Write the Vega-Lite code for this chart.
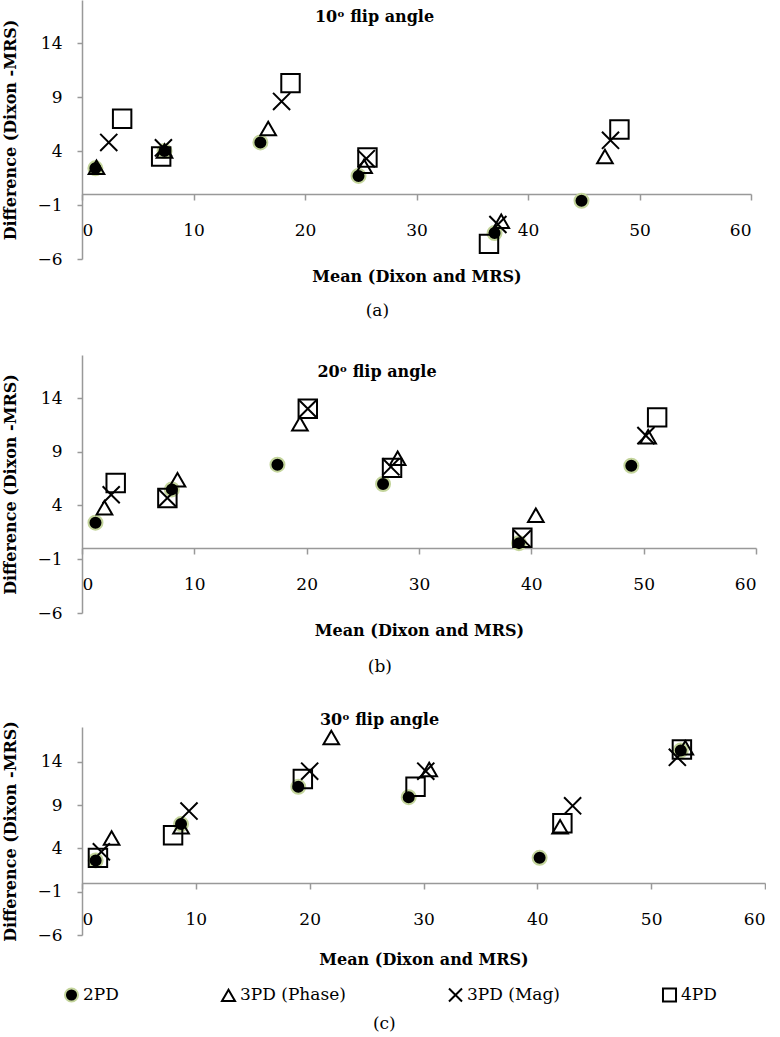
{
  "$schema": "https://vega.github.io/schema/vega-lite/v6.json",
  "background": "white",
  "padding": {"left": 2, "top": 0, "right": 0, "bottom": 0},
  "datasets": {
    "pts": [
      {"panel": "a", "method": "2PD", "mean": 1.2, "diff": 2.4},
      {"panel": "a", "method": "2PD", "mean": 7.4, "diff": 4.0},
      {"panel": "a", "method": "2PD", "mean": 16.0, "diff": 4.8},
      {"panel": "a", "method": "2PD", "mean": 24.8, "diff": 1.7},
      {"panel": "a", "method": "2PD", "mean": 37.0, "diff": -3.6},
      {"panel": "a", "method": "2PD", "mean": 44.8, "diff": -0.6},
      {"panel": "a", "method": "3PD (Phase)", "mean": 1.3, "diff": 2.5},
      {"panel": "a", "method": "3PD (Phase)", "mean": 7.4, "diff": 4.0},
      {"panel": "a", "method": "3PD (Phase)", "mean": 16.7, "diff": 6.1},
      {"panel": "a", "method": "3PD (Phase)", "mean": 25.3, "diff": 2.6},
      {"panel": "a", "method": "3PD (Phase)", "mean": 37.6, "diff": -2.5},
      {"panel": "a", "method": "3PD (Phase)", "mean": 46.9, "diff": 3.5},
      {"panel": "a", "method": "3PD (Mag)", "mean": 2.4, "diff": 4.8},
      {"panel": "a", "method": "3PD (Mag)", "mean": 7.3, "diff": 4.3},
      {"panel": "a", "method": "3PD (Mag)", "mean": 17.9, "diff": 8.6},
      {"panel": "a", "method": "3PD (Mag)", "mean": 25.5, "diff": 3.3},
      {"panel": "a", "method": "3PD (Mag)", "mean": 37.3, "diff": -2.8},
      {"panel": "a", "method": "3PD (Mag)", "mean": 47.4, "diff": 5.0},
      {"panel": "a", "method": "4PD", "mean": 3.6, "diff": 7.0},
      {"panel": "a", "method": "4PD", "mean": 7.1, "diff": 3.5},
      {"panel": "a", "method": "4PD", "mean": 18.7, "diff": 10.3},
      {"panel": "a", "method": "4PD", "mean": 25.6, "diff": 3.4},
      {"panel": "a", "method": "4PD", "mean": 36.5, "diff": -4.6},
      {"panel": "a", "method": "4PD", "mean": 48.2, "diff": 6.0},
      {"panel": "b", "method": "2PD", "mean": 1.2, "diff": 2.4},
      {"panel": "b", "method": "2PD", "mean": 8.0, "diff": 5.5},
      {"panel": "b", "method": "2PD", "mean": 17.4, "diff": 7.8},
      {"panel": "b", "method": "2PD", "mean": 26.8, "diff": 6.0},
      {"panel": "b", "method": "2PD", "mean": 38.9, "diff": 0.5},
      {"panel": "b", "method": "2PD", "mean": 48.9, "diff": 7.7},
      {"panel": "b", "method": "3PD (Phase)", "mean": 2.0, "diff": 3.8},
      {"panel": "b", "method": "3PD (Phase)", "mean": 8.5, "diff": 6.4},
      {"panel": "b", "method": "3PD (Phase)", "mean": 19.4, "diff": 11.6},
      {"panel": "b", "method": "3PD (Phase)", "mean": 28.1, "diff": 8.4},
      {"panel": "b", "method": "3PD (Phase)", "mean": 40.4, "diff": 3.1},
      {"panel": "b", "method": "3PD (Phase)", "mean": 50.4, "diff": 10.4},
      {"panel": "b", "method": "3PD (Mag)", "mean": 2.6, "diff": 5.0},
      {"panel": "b", "method": "3PD (Mag)", "mean": 7.6, "diff": 4.7},
      {"panel": "b", "method": "3PD (Mag)", "mean": 20.1, "diff": 13.0},
      {"panel": "b", "method": "3PD (Mag)", "mean": 27.5, "diff": 7.6},
      {"panel": "b", "method": "3PD (Mag)", "mean": 39.2, "diff": 0.9},
      {"panel": "b", "method": "3PD (Mag)", "mean": 50.2, "diff": 10.5},
      {"panel": "b", "method": "4PD", "mean": 3.0, "diff": 6.1},
      {"panel": "b", "method": "4PD", "mean": 7.6, "diff": 4.7},
      {"panel": "b", "method": "4PD", "mean": 20.1, "diff": 13.0},
      {"panel": "b", "method": "4PD", "mean": 27.6, "diff": 7.5},
      {"panel": "b", "method": "4PD", "mean": 39.2, "diff": 1.0},
      {"panel": "b", "method": "4PD", "mean": 51.2, "diff": 12.2},
      {"panel": "c", "method": "2PD", "mean": 1.2, "diff": 2.6},
      {"panel": "c", "method": "2PD", "mean": 8.7, "diff": 6.8},
      {"panel": "c", "method": "2PD", "mean": 19.0, "diff": 11.1},
      {"panel": "c", "method": "2PD", "mean": 28.7, "diff": 9.9},
      {"panel": "c", "method": "2PD", "mean": 40.2, "diff": 2.9},
      {"panel": "c", "method": "2PD", "mean": 52.6, "diff": 15.3},
      {"panel": "c", "method": "3PD (Phase)", "mean": 2.6, "diff": 5.2},
      {"panel": "c", "method": "3PD (Phase)", "mean": 8.7, "diff": 6.5},
      {"panel": "c", "method": "3PD (Phase)", "mean": 21.9, "diff": 16.8},
      {"panel": "c", "method": "3PD (Phase)", "mean": 30.5, "diff": 13.1},
      {"panel": "c", "method": "3PD (Phase)", "mean": 42.0, "diff": 6.5},
      {"panel": "c", "method": "3PD (Phase)", "mean": 53.0, "diff": 15.6},
      {"panel": "c", "method": "3PD (Mag)", "mean": 1.7, "diff": 3.6},
      {"panel": "c", "method": "3PD (Mag)", "mean": 9.4, "diff": 8.3},
      {"panel": "c", "method": "3PD (Mag)", "mean": 20.0, "diff": 12.9},
      {"panel": "c", "method": "3PD (Mag)", "mean": 30.2, "diff": 12.9},
      {"panel": "c", "method": "3PD (Mag)", "mean": 43.1, "diff": 8.9},
      {"panel": "c", "method": "3PD (Mag)", "mean": 52.3, "diff": 14.5},
      {"panel": "c", "method": "4PD", "mean": 1.4, "diff": 2.9},
      {"panel": "c", "method": "4PD", "mean": 8.0, "diff": 5.5},
      {"panel": "c", "method": "4PD", "mean": 19.4, "diff": 12.0},
      {"panel": "c", "method": "4PD", "mean": 29.3, "diff": 11.1},
      {"panel": "c", "method": "4PD", "mean": 42.2, "diff": 6.9},
      {"panel": "c", "method": "4PD", "mean": 52.7, "diff": 15.4}
    ]
  },
  "config": {
    "view": {"stroke": null},
    "font": "DejaVu Serif",
    "axis": {
      "grid": false,
      "domainColor": "#999999",
      "domainWidth": 1.5,
      "tickColor": "#999999",
      "tickWidth": 1.5,
      "labelColor": "black",
      "titleColor": "black",
      "labelFont": "DejaVu Serif",
      "titleFont": "DejaVu Serif",
      "labelFontSize": 17,
      "titleFontSize": 16,
      "titleFontWeight": "bold"
    },
    "title": {"font": "DejaVu Serif", "fontSize": 16, "fontWeight": "bold", "color": "black"},
    "concat": {"spacing": 36}
  },
  "resolve": {"legend": {"shape": "independent", "fill": "independent", "stroke": "independent"}},
  "vconcat": [
    {
      "title": {"text": "(a)", "orient": "bottom", "fontSize": 17, "fontWeight": "normal", "anchor": "middle", "offset": 19},
      "vconcat": [
        {
          "width": 669,
          "height": 259,
          "title": {"text": "10ᵒ flip angle", "anchor": "middle", "dx": -42, "offset": -25},
          "data": {"name": "pts"},
          "transform": [{"filter": "datum.panel == 'a'"}],
          "mark": {"type": "point", "strokeWidth": 2, "opacity": 1},
          "encoding": {
            "x": {"field": "mean", "type": "quantitative", "scale": {"domain": [0, 60], "nice": false},
              "axis": {"title": "Mean (Dixon and MRS)", "values": [0, 10, 20, 30, 40, 50, 60], "offset": -65, "tickSize": 6, "labelPadding": 22, "titlePadding": 30}},
            "y": {"field": "diff", "type": "quantitative", "scale": {"domain": [-6, 18], "nice": false, "zero": false},
              "axis": {"title": "Difference (Dixon -MRS)", "values": [-6, -1, 4, 9, 14], "tickSize": 5, "labelPadding": 15, "titlePadding": 18}},
            "shape": {"field": "method", "type": "nominal", "scale": {"domain": ["2PD", "3PD (Phase)", "3PD (Mag)", "4PD"], "range": ["circle", "triangle-up", "M-1,-1L1,1M-1,1L1,-1", "square"]}, "legend": null},
            "fill": {"field": "method", "type": "nominal", "scale": {"domain": ["2PD", "3PD (Phase)", "3PD (Mag)", "4PD"], "range": ["#000000", "transparent", "transparent", "transparent"]}, "legend": null},
            "stroke": {"field": "method", "type": "nominal", "scale": {"domain": ["2PD", "3PD (Phase)", "3PD (Mag)", "4PD"], "range": ["#c4d59c", "#000000", "#000000", "#000000"]}, "legend": null},
            "size": {"field": "method", "type": "nominal", "scale": {"domain": ["2PD", "3PD (Phase)", "3PD (Mag)", "4PD"], "range": [196, 340, 210, 206]}, "legend": null}
          }
        }
      ]
    },
    {
      "title": {"text": "(b)", "orient": "bottom", "fontSize": 17, "fontWeight": "normal", "anchor": "middle", "offset": 20.5},
      "vconcat": [
        {
          "width": 674,
          "height": 258,
          "title": {"text": "20ᵒ flip angle", "anchor": "middle", "dx": -42, "offset": -25},
          "data": {"name": "pts"},
          "transform": [{"filter": "datum.panel == 'b'"}],
          "mark": {"type": "point", "strokeWidth": 2, "opacity": 1},
          "encoding": {
            "x": {"field": "mean", "type": "quantitative", "scale": {"domain": [0, 60], "nice": false},
              "axis": {"title": "Mean (Dixon and MRS)", "values": [0, 10, 20, 30, 40, 50, 60], "offset": -65, "tickSize": 6, "labelPadding": 22, "titlePadding": 30}},
            "y": {"field": "diff", "type": "quantitative", "scale": {"domain": [-6, 18], "nice": false, "zero": false},
              "axis": {"title": "Difference (Dixon -MRS)", "values": [-6, -1, 4, 9, 14], "tickSize": 5, "labelPadding": 15, "titlePadding": 18}},
            "shape": {"field": "method", "type": "nominal", "scale": {"domain": ["2PD", "3PD (Phase)", "3PD (Mag)", "4PD"], "range": ["circle", "triangle-up", "M-1,-1L1,1M-1,1L1,-1", "square"]}, "legend": null},
            "fill": {"field": "method", "type": "nominal", "scale": {"domain": ["2PD", "3PD (Phase)", "3PD (Mag)", "4PD"], "range": ["#000000", "transparent", "transparent", "transparent"]}, "legend": null},
            "stroke": {"field": "method", "type": "nominal", "scale": {"domain": ["2PD", "3PD (Phase)", "3PD (Mag)", "4PD"], "range": ["#c4d59c", "#000000", "#000000", "#000000"]}, "legend": null},
            "size": {"field": "method", "type": "nominal", "scale": {"domain": ["2PD", "3PD (Phase)", "3PD (Mag)", "4PD"], "range": [196, 340, 210, 206]}, "legend": null}
          }
        }
      ]
    },
    {
      "title": {"text": "(c)", "orient": "bottom", "fontSize": 17, "fontWeight": "normal", "anchor": "middle", "offset": 9.5},
      "vconcat": [
        {
          "width": 683,
          "height": 208,
          "title": {"text": "30ᵒ flip angle", "anchor": "middle", "dx": -44, "offset": -7},
          "data": {"name": "pts"},
          "transform": [{"filter": "datum.panel == 'c'"}],
          "mark": {"type": "point", "strokeWidth": 2, "opacity": 1},
          "encoding": {
            "x": {"field": "mean", "type": "quantitative", "scale": {"domain": [0, 60], "nice": false},
              "axis": {"title": "Mean (Dixon and MRS)", "values": [0, 10, 20, 30, 40, 50, 60], "offset": -52, "tickSize": 6, "labelPadding": 22, "titlePadding": 24}},
            "y": {"field": "diff", "type": "quantitative", "scale": {"domain": [-6, 18], "nice": false, "zero": false},
              "axis": {"title": "Difference (Dixon -MRS)", "values": [-6, -1, 4, 9, 14], "tickSize": 5, "labelPadding": 15, "titlePadding": 18}},
            "shape": {"field": "method", "type": "nominal", "scale": {"domain": ["2PD", "3PD (Phase)", "3PD (Mag)", "4PD"], "range": ["circle", "triangle-up", "M-1,-1L1,1M-1,1L1,-1", "square"]},
              "legend": {"orient": "none", "legendX": -19, "legendY": 259, "direction": "horizontal", "title": null, "columnPadding": 98, "symbolSize": 170, "symbolStrokeWidth": 2, "labelFontSize": 17, "labelFont": "DejaVu Serif", "labelColor": "black", "labelOffset": 3}},
            "fill": {"field": "method", "type": "nominal", "scale": {"domain": ["2PD", "3PD (Phase)", "3PD (Mag)", "4PD"], "range": ["#000000", "transparent", "transparent", "transparent"]},
              "legend": {"orient": "none", "legendX": -19, "legendY": 259, "direction": "horizontal", "title": null, "columnPadding": 98, "symbolSize": 170, "symbolStrokeWidth": 2, "labelFontSize": 17, "labelFont": "DejaVu Serif", "labelColor": "black", "labelOffset": 3}},
            "stroke": {"field": "method", "type": "nominal", "scale": {"domain": ["2PD", "3PD (Phase)", "3PD (Mag)", "4PD"], "range": ["#c4d59c", "#000000", "#000000", "#000000"]},
              "legend": {"orient": "none", "legendX": -19, "legendY": 259, "direction": "horizontal", "title": null, "columnPadding": 98, "symbolSize": 170, "symbolStrokeWidth": 2, "labelFontSize": 17, "labelFont": "DejaVu Serif", "labelColor": "black", "labelOffset": 3}},
            "size": {"field": "method", "type": "nominal", "scale": {"domain": ["2PD", "3PD (Phase)", "3PD (Mag)", "4PD"], "range": [196, 340, 210, 206]}, "legend": null}
          }
        }
      ]
    }
  ]
}
